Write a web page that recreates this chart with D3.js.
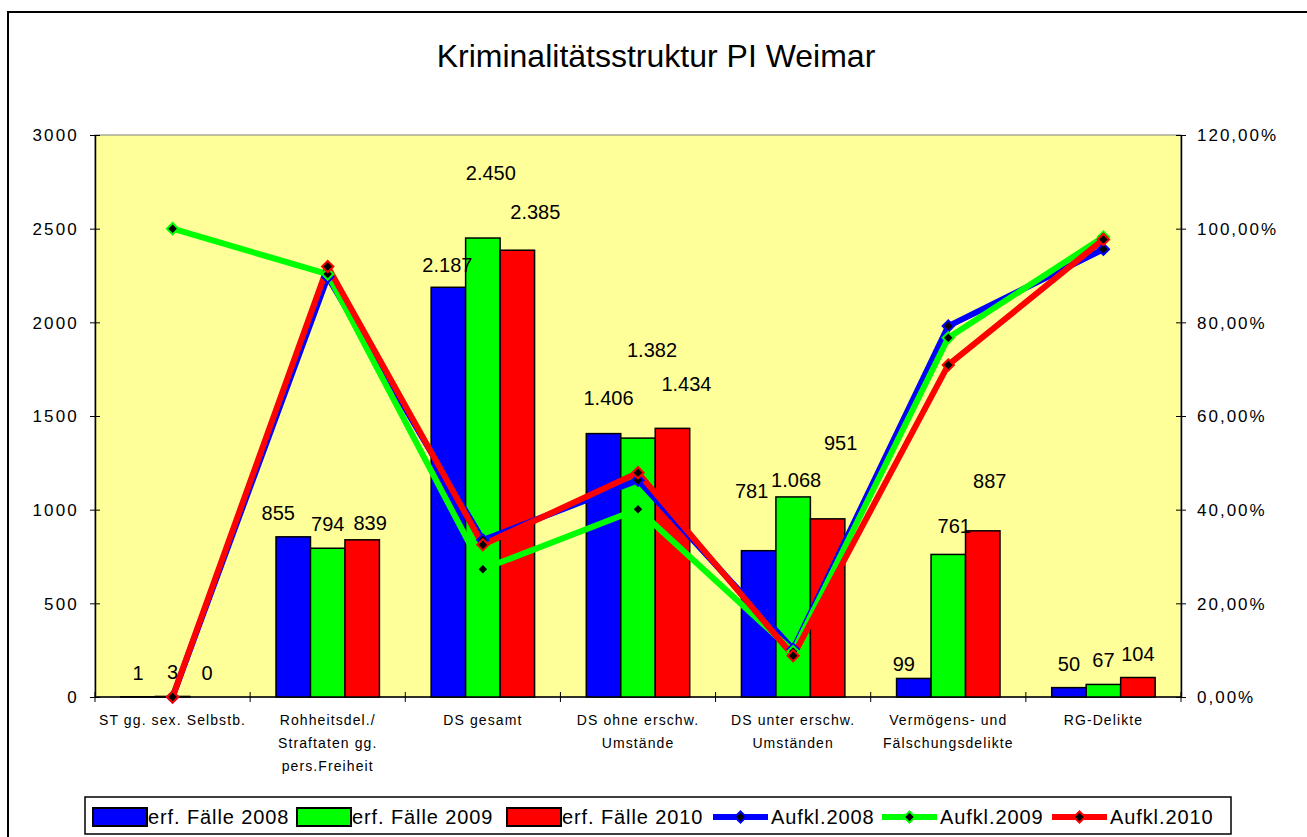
<!DOCTYPE html>
<html><head><meta charset="utf-8">
<script src="https://cdn.jsdelivr.net/npm/d3@7"></script>
<style>
html,body{margin:0;padding:0;background:#fff;}
svg{display:block;font-family:Arial,"Liberation Sans",sans-serif;}
</style></head>
<body>
<svg id="c" width="1307" height="837"></svg>
<script>
// ---------- data ----------
const title = "Kriminalitätsstruktur PI Weimar";
const categories = [
  ["ST gg. sex. Selbstb."],
  ["Rohheitsdel./", "Straftaten gg.", "pers.Freiheit"],
  ["DS gesamt"],
  ["DS ohne erschw.", "Umstände"],
  ["DS unter erschw.", "Umständen"],
  ["Vermögens- und", "Fälschungsdelikte"],
  ["RG-Delikte"]
];
const barSeries = ["erf. Fälle 2008", "erf. Fälle 2009", "erf. Fälle 2010"];
const faelle2008 = [1, 855, 2187, 1406, 781, 99, 50];
const faelle2009 = [3, 794, 2450, 1382, 1068, 761, 67];
const faelle2010 = [0, 839, 2385, 1434, 951, 887, 104];
const lineSeries = ["Aufkl.2008", "Aufkl.2009", "Aufkl.2010"];
const aufkl2008 = [0.000, 0.897, 0.335, 0.463, 0.102, 0.792, 0.956];
const aufkl2009 = [1.000, 0.903, 0.273, 0.401, 0.097, 0.767, 0.982];
const aufkl2010 = [0.000, 0.919, 0.325, 0.479, 0.088, 0.709, 0.977];
const leftTicks = [0, 500, 1000, 1500, 2000, 2500, 3000];
const rightTicks = [0, 0.2, 0.4, 0.6, 0.8, 1.0, 1.2];

// manual data-label nudges (pixels) as in the original chart
const labelLift = [[0,0,0],[0,0,-7],[-2,41,14],[12,64,20],[36,-7,52],[-10,4,26],[0,0,0]];
const labelShift = [[0,0,0],[-15,0,8],[-1,8,18],[5,14,14],[-7,3,13],[-10,6,7],[0,0,0]];

// ---------- styles ----------
const colors = ["#0000FF", "#00FF00", "#FF0000"];
const plot = {left: 95, right: 1181, top: 135, bottom: 697};

const svg = d3.select("#c");
const de = d3.formatLocale({decimal: ",", thousands: ".", grouping: [3], currency: ["", "€"]});
const fmtCount = de.format(",d");
const fmtPct = de.format(".2%");

// outer frame
svg.append("rect").attr("x", 8).attr("y", 12).attr("width", 1310).attr("height", 840)
  .attr("fill", "#fff").attr("stroke", "#000").attr("stroke-width", 2);

// title
svg.append("text").attr("x", 656).attr("y", 67).attr("text-anchor", "middle")
  .attr("font-size", 32).attr("fill", "#000").text(title);

// scales
const catIdx = d3.range(categories.length);
const x = d3.scaleBand().domain(catIdx).range([plot.left, plot.right]).paddingInner(0).paddingOuter(0);
const xs = d3.scaleBand().domain(d3.range(3)).range([0, x.bandwidth()]).paddingInner(0).paddingOuter(0.75);
const yL = d3.scaleLinear().domain([0, 3000]).range([plot.bottom, plot.top]);
const yR = d3.scaleLinear().domain([0, 1.2]).range([plot.bottom, plot.top]);

// plot area
svg.append("rect").attr("x", plot.left).attr("y", plot.top)
  .attr("width", plot.right - plot.left).attr("height", plot.bottom - plot.top)
  .attr("fill", "#FFFF99").attr("stroke", "#808080").attr("stroke-width", 1);

// axes
const axL = d3.axisLeft(yL).tickValues(leftTicks).tickFormat(d3.format("d")).tickSize(0);
const gL = svg.append("g").attr("transform", `translate(${plot.left},0)`).call(axL);
gL.select(".domain").attr("stroke", "#000").attr("stroke-width", 1.5);
gL.selectAll(".tick line").attr("x1", -5).attr("x2", 5).attr("stroke", "#000");
gL.selectAll(".tick text").attr("x", -16).attr("dy", "0.35em").attr("font-size", 17)
  .attr("letter-spacing", 2.2).attr("font-family", "Arial, 'Liberation Sans', sans-serif").attr("fill", "#000");

const axR = d3.axisRight(yR).tickValues(rightTicks).tickFormat(fmtPct).tickSize(0);
const gR = svg.append("g").attr("transform", `translate(${plot.right},0)`).call(axR);
gR.select(".domain").attr("stroke", "#000").attr("stroke-width", 1.5);
gR.selectAll(".tick line").attr("x1", -5).attr("x2", 5).attr("stroke", "#000");
gR.selectAll(".tick text").attr("x", 16).attr("dy", "0.35em").attr("font-size", 17)
  .attr("letter-spacing", 2).attr("font-family", "Arial, 'Liberation Sans', sans-serif").attr("fill", "#000");

// x axis
svg.append("line").attr("x1", plot.left).attr("x2", plot.right)
  .attr("y1", plot.bottom).attr("y2", plot.bottom).attr("stroke", "#000").attr("stroke-width", 1.5);
const bounds = d3.range(categories.length + 1).map(i => plot.left + i * x.step());
svg.selectAll(".xt").data(bounds).join("line").attr("class", "xt")
  .attr("x1", d => d).attr("x2", d => d).attr("y1", plot.bottom - 5).attr("y2", plot.bottom + 5)
  .attr("stroke", "#000");

const catG = svg.selectAll(".cat").data(catIdx).join("text").attr("class", "cat")
  .attr("x", i => x(i) + x.bandwidth() / 2).attr("y", 725)
  .attr("text-anchor", "middle").attr("font-size", 14).attr("letter-spacing", 1.1).attr("fill", "#000");
catG.each(function(i) {
  d3.select(this).selectAll("tspan").data(categories[i]).join("tspan")
    .attr("x", x(i) + x.bandwidth() / 2).attr("dy", (d, j) => j === 0 ? 0 : 23).text(d => d);
});

// bars
const barData = [faelle2008, faelle2009, faelle2010];
barData.forEach((vals, s) => {
  svg.append("g").selectAll("rect").data(vals).join("rect")
    .attr("x", (d, i) => x(i) + xs(s))
    .attr("y", d => yL(d))
    .attr("width", xs.bandwidth())
    .attr("height", d => plot.bottom - yL(d))
    .attr("fill", colors[s]).attr("stroke", "#000").attr("stroke-width", 1.5);
});

// bar labels
barData.forEach((vals, s) => {
  svg.append("g").selectAll("text").data(vals).join("text")
    .attr("x", (d, i) => x(i) + xs(s) + xs.bandwidth() / 2 + labelShift[i][s])
    .attr("y", (d, i) => yL(d) - 17 - labelLift[i][s])
    .attr("text-anchor", "middle").attr("font-size", 20).attr("fill", "#000")
    .text(d => fmtCount(d));
});

// lines
const lineData = [aufkl2008, aufkl2009, aufkl2010];
const cx = i => x(i) + x.bandwidth() / 2;
const marker = d3.symbol().type(d3.symbolSquare).size(64);
lineData.forEach((vals, s) => {
  const line = d3.line().x((d, i) => cx(i)).y(d => yR(d));
  svg.append("path").datum(vals).attr("d", line)
    .attr("fill", "none").attr("stroke", colors[s]).attr("stroke-width", 6)
    .attr("stroke-linejoin", "round");
});
lineData.forEach((vals, s) => {
  svg.append("g").selectAll("path").data(vals).join("path")
    .attr("d", marker)
    .attr("transform", (d, i) => `translate(${cx(i)},${yR(d)}) rotate(45)`)
    .attr("fill", "#000").attr("stroke", colors[s]).attr("stroke-width", 2);
});

// legend
const leg = svg.append("g");
leg.append("rect").attr("x", 85).attr("y", 797).attr("width", 1146).attr("height", 37)
  .attr("fill", "#fff").attr("stroke", "#000").attr("stroke-width", 1.5);
const legBarX = [93, 297, 507];
barSeries.forEach((name, s) => {
  leg.append("rect").attr("x", legBarX[s]).attr("y", 808).attr("width", 54).attr("height", 18)
    .attr("fill", colors[s]).attr("stroke", "#000").attr("stroke-width", 2);
  leg.append("text").attr("x", legBarX[s] + 55).attr("y", 824).attr("font-size", 20)
    .attr("letter-spacing", 0.9).attr("fill", "#000").text(name);
});
const legLineX = [713, 882, 1052];
lineSeries.forEach((name, s) => {
  leg.append("line").attr("x1", legLineX[s]).attr("x2", legLineX[s] + 55)
    .attr("y1", 817).attr("y2", 817).attr("stroke", colors[s]).attr("stroke-width", 6);
  leg.append("path").attr("d", marker)
    .attr("transform", `translate(${legLineX[s] + 27.5},817) rotate(45)`)
    .attr("fill", "#000").attr("stroke", colors[s]).attr("stroke-width", 2);
  leg.append("text").attr("x", legLineX[s] + 58).attr("y", 824).attr("font-size", 20)
    .attr("letter-spacing", 0.9).attr("fill", "#000").text(name);
});
</script>
</body></html>
